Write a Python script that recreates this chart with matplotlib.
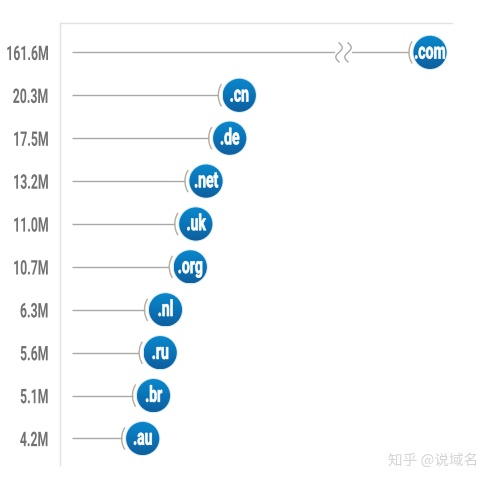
import numpy as np
import matplotlib
matplotlib.use('Agg')
import matplotlib.pyplot as plt
from matplotlib.patches import Ellipse
from matplotlib.colors import LinearSegmentedColormap
from matplotlib.patheffects import AbstractPathEffect
from matplotlib.transforms import Affine2D

tlds = ['.com', '.cn', '.de', '.net', '.uk', '.org', '.nl', '.ru', '.br', '.au']
value_labels = ['161.6M', '20.3M', '17.5M', '13.2M', '11.0M', '10.7M', '6.3M', '5.6M', '5.1M', '4.2M']
# drawn position of each bubble along the (broken, non-linear) scale
positions = [370, 179.3, 169.7, 146, 135.8, 130.3, 105.5, 100.2, 93.5, 82.7]
line_start = 12
break_position = [279, 288]


class Narrow(AbstractPathEffect):
    """Squeeze a text's glyphs horizontally about its centre or left edge."""
    def __init__(self, s, about='center', stroke=0.0):
        super().__init__()
        self.s, self.about, self.stroke = s, about, stroke

    def draw_path(self, renderer, gc, tpath, affine, rgbFace=None):
        ext = tpath.get_extents()
        cx = ext.x0 if self.about == 'left' else (ext.x0 + ext.x1) / 2
        squeeze = Affine2D().translate(-cx, 0).scale(self.s, 1).translate(cx, 0)
        gc0 = renderer.new_gc()
        gc0.copy_properties(gc)
        if self.stroke and rgbFace is not None:
            gc0.set_linewidth(self.stroke)
            gc0.set_foreground(rgbFace)
        else:
            gc0.set_linewidth(0)
        renderer.draw_path(gc0, tpath, squeeze + affine, rgbFace)
        gc0.restore()


W, H = 491, 483
fig = plt.figure(figsize=(W / 100, H / 100), dpi=100, facecolor='white')
L, R, T, B = 60, 452, 23, 465
ax = fig.add_axes([L / W, 1 - B / H, (R - L) / W, (B - T) / H])
row_px = 42.9
row0 = 52.4
ylim = ((B - row0) / row_px, -(row0 - T) / row_px)

for s in ['right', 'bottom']:
    ax.spines[s].set_visible(False)
for s in ['left', 'top']:
    ax.spines[s].set_color('#e2e2e2')
    ax.spines[s].set_linewidth(1.0)
ax.set_xticks([])
ax.set_yticks([])

cmap = LinearSegmentedColormap.from_list('b', ['#0a88cc', '#0a74b8', '#0f5f9e'])
grad = np.linspace(0, 1, 64).reshape(-1, 1)
r_px = 16.6
r_y = r_px / row_px
arc_t = np.radians(np.linspace(150, 210, 30))
for i, (name, x) in enumerate(zip(tlds, positions)):
    ax.plot([line_start, x - 21], [i, i], color='#a9a9a9', lw=1.0, zorder=1, solid_capstyle='butt')
    ax.plot(x + 21 * np.cos(arc_t), i + 21 * np.sin(arc_t) / row_px, color='#b5aca0', lw=1.0, zorder=2)
    ax.add_patch(Ellipse((x, i), 2 * r_px + 2, 2 * r_y + 2 / row_px, fc='#d8ecf6', ec='none', zorder=2))
    circ = Ellipse((x, i), 2 * r_px, 2 * r_y, fc='none', ec='none', zorder=3)
    ax.add_patch(circ)
    im = ax.imshow(grad, cmap=cmap, extent=(x - r_px, x + r_px, i + r_y, i - r_y),
                   aspect='auto', zorder=3)
    im.set_clip_path(circ)
    ax.text(x, i + 0.005, name, ha='center', va='center', color='white', fontsize=16,
            fontweight='bold', family='Roboto', zorder=4,
            path_effects=[Narrow(0.63, stroke=0.45)])

# axis break on the first row
t = np.linspace(-1, 1, 40)
ax.plot([break_position[0] - 2, break_position[1] + 2], [0, 0], color='white', lw=3, zorder=1.5)
for bx in break_position:
    ax.plot(bx - 3.2 * np.sin(t * np.pi), t * 9.5 / row_px, color='#a9a9a9', lw=1.0, zorder=1.6)

ax.set_xlim(0, R - L)
ax.set_ylim(*ylim)
ax.patch.set_alpha(0)

# right-aligned, narrow value labels beside the axis
renderer = fig.canvas.get_renderer()
squeeze = 0.61
for i, lab in enumerate(value_labels):
    txt = ax.text(0, i + 0.05, lab, ha='left', va='center', fontsize=14.5, color='#727272',
                  fontweight='bold', family='Roboto', clip_on=False,
                  transform=ax.get_yaxis_transform(),
                  path_effects=[Narrow(squeeze, 'left')])
    w = txt.get_window_extent(renderer).width
    txt.set_x((48 - squeeze * w - L) / (R - L))

fig.text(433 / W, 1 - 461 / H, '知乎 @说域名', ha='center', va='center', fontsize=10.5,
         color='#d4d4d4', family=['Noto Sans CJK SC', 'DejaVu Sans'])
fig.savefig('out.png', dpi=100)
